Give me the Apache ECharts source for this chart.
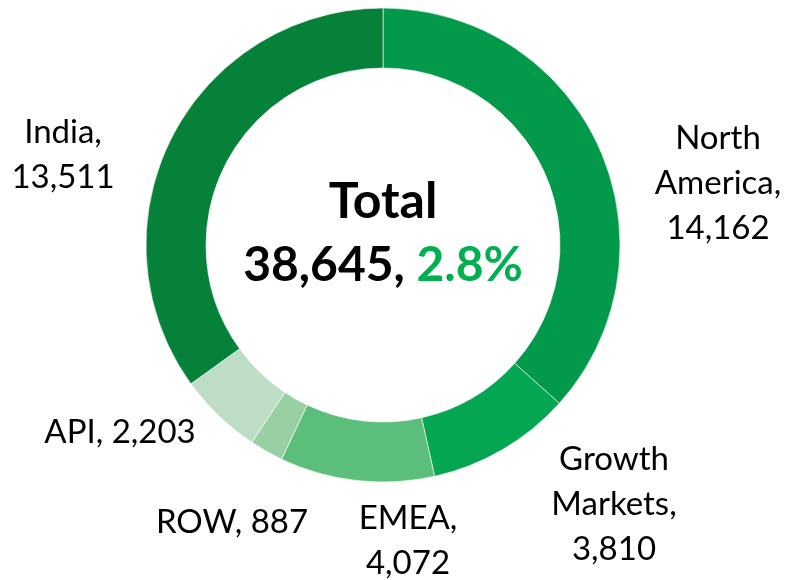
<!DOCTYPE html>
<html>
<head>
<meta charset="utf-8">
<script src="https://cdn.jsdelivr.net/npm/echarts@6/dist/echarts.min.js"></script>
<style>
    html, body { margin: 0; padding: 0; background: #fff; }
    #chart { width: 789px; height: 580px; }
</style>
</head>
<body>
<div id="chart"></div>
<script>
const regions = ['North America', 'Growth Markets', 'EMEA', 'ROW', 'API', 'India'];
const volumes = [14162, 3810, 4072, 887, 2203, 13511];
const growthPct = 2.8;

const colors = ['#03994a', '#04a651', '#5bbe7a', '#98d0a4', '#bddec5', '#068139'];
// label centres, one per slice (layout only)
const labelPos = [
    [718, 183], [614, 504], [408, 541], [232, 522], [120, 432], [63, 155]
];
const oneLine = ['ROW', 'API'];

const fmt = v => v.toLocaleString('en-US');
const total = volumes.reduce((a, b) => a + b, 0);
const cx = 383, cy = 245;

const chart = echarts.init(document.getElementById('chart'));
chart.setOption({
    backgroundColor: '#fff',
    animation: false,
    series: [{
        type: 'pie',
        center: [cx, cy],
        radius: [177, 237],
        startAngle: 90,
        clockwise: true,
        silent: true,
        itemStyle: { borderColor: '#fff', borderWidth: 0.6 },
        label: {
            show: true,
            position: 'outside',
            overflow: 'none',
            fontFamily: 'Lato',
            fontSize: 33,
            lineHeight: 45,
            color: '#000',
            align: 'center',
            formatter: p => {
                const name = oneLine.includes(p.name) ? p.name : p.name.split(' ').join('\n');
                const sep = oneLine.includes(p.name) ? ' ' : '\n';
                return name + ',' + sep + fmt(p.value);
            }
        },
        labelLine: { show: false },
        labelLayout: p => ({
            x: labelPos[p.dataIndex][0],
            y: labelPos[p.dataIndex][1],
            align: 'center',
            verticalAlign: 'middle'
        }),
        data: regions.map((r, i) => ({ name: r, value: volumes[i], itemStyle: { color: colors[i] } }))
    }],
    graphic: [
        {
            type: 'text', x: cx, y: 202,
            style: { text: 'Total', fontFamily: 'Lato', fontWeight: 'bold', fontSize: 50, fill: '#000', align: 'center', verticalAlign: 'middle' }
        },
        {
            type: 'text', x: cx, y: 266,
            style: {
                text: '{a|' + fmt(total) + ', }{b|' + growthPct.toFixed(1) + '%}',
                align: 'center', verticalAlign: 'middle',
                rich: {
                    a: { fontFamily: 'Lato', fontWeight: 'bold', fontSize: 48, fill: '#000' },
                    b: { fontFamily: 'Lato', fontWeight: 'bold', fontSize: 48, fill: '#00b050' }
                }
            }
        }
    ]
});
</script>
</body>
</html>
